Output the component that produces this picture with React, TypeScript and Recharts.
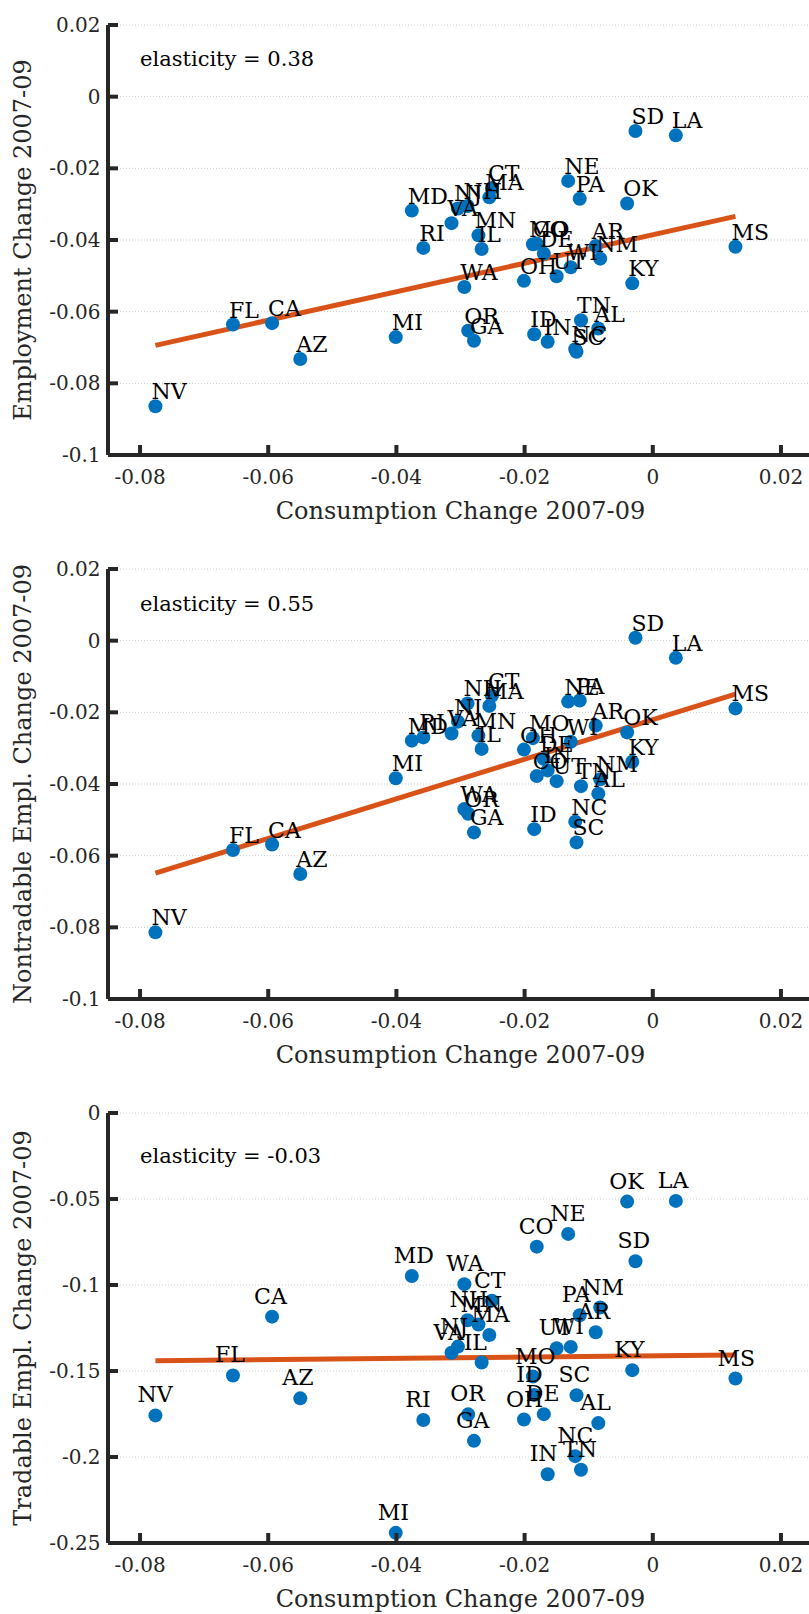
import React from "react";
import { ScatterChart, Scatter, XAxis, YAxis, CartesianGrid } from "recharts";

const STATES = ["NV", "FL", "CA", "AZ", "MI", "MD", "RI", "VA", "NJ", "WA", "NH", "OR", "GA", "MN", "IL", "MA", "CT", "OH", "ID", "MO", "CO", "DE", "IN", "UT", "NE", "WI", "NC", "SC", "PA", "TN", "AR", "AL", "NM", "OK", "KY", "SD", "LA", "MS"];
const CONSUMPTION = [-0.0776, -0.0655, -0.0594, -0.055, -0.0401, -0.0376, -0.0358, -0.0314, -0.0304, -0.0294, -0.0289, -0.0288, -0.0279, -0.0272, -0.0267, -0.0255, -0.0251, -0.0201, -0.0185, -0.0187, -0.0181, -0.017, -0.0164, -0.015, -0.0132, -0.0128, -0.0121, -0.0119, -0.0114, -0.0112, -0.0089, -0.0085, -0.0082, -0.004, -0.0032, -0.0027, 0.0036, 0.0129];
const EMPLOYMENT = [-0.0864, -0.0636, -0.0632, -0.0732, -0.0671, -0.0318, -0.0422, -0.0353, -0.0312, -0.0531, -0.0305, -0.0653, -0.0681, -0.0387, -0.0425, -0.0281, -0.0255, -0.0514, -0.0663, -0.0412, -0.041, -0.0438, -0.0684, -0.0501, -0.0235, -0.0476, -0.0705, -0.0712, -0.0285, -0.0624, -0.0417, -0.0647, -0.0452, -0.0298, -0.0521, -0.0096, -0.0108, -0.0419];
const NONTRADABLE = [-0.0814, -0.0584, -0.0569, -0.0651, -0.0384, -0.0279, -0.027, -0.0259, -0.0226, -0.047, -0.0175, -0.0483, -0.0535, -0.0265, -0.0302, -0.0182, -0.0154, -0.0304, -0.0526, -0.0272, -0.0378, -0.033, -0.0362, -0.0392, -0.017, -0.0282, -0.0505, -0.0563, -0.0167, -0.0406, -0.0237, -0.0427, -0.0387, -0.0256, -0.0338, 0.0008, -0.0048, -0.0189];
const TRADABLE = [-0.1758, -0.1526, -0.1184, -0.1659, -0.2441, -0.0948, -0.1785, -0.1394, -0.1358, -0.0995, -0.1205, -0.1752, -0.1906, -0.123, -0.1451, -0.1291, -0.1091, -0.1782, -0.1639, -0.1532, -0.0777, -0.1751, -0.21, -0.1368, -0.0703, -0.136, -0.1995, -0.1641, -0.1176, -0.2074, -0.1275, -0.1803, -0.1131, -0.0515, -0.1495, -0.0862, -0.0511, -0.1544];

// fitted line end points
const FIT_X = [-0.0776, 0.0129];
const FIT_EMP = [-0.0694, -0.0334];
const FIT_NONTRAD = [-0.0649, -0.0149];
const FIT_TRAD = [-0.1441, -0.1407];

const X_TICKS = [-0.08, -0.06, -0.04, -0.02, 0, 0.02];
const X_TICK_LABELS = ["-0.08", "-0.06", "-0.04", "-0.02", "0", "0.02"];
const Y_TICKS_A = [0.02, 0, -0.02, -0.04, -0.06, -0.08, -0.1];
const Y_TICK_LABELS_A = ["0.02", "0", "-0.02", "-0.04", "-0.06", "-0.08", "-0.1"];
const Y_TICKS_B = [0, -0.05, -0.1, -0.15, -0.2, -0.25];
const Y_TICK_LABELS_B = ["0", "-0.05", "-0.1", "-0.15", "-0.2", "-0.25"];

const NOTES = ["elasticity = 0.38", "elasticity = 0.55", "elasticity = -0.03"];
const NOTE_X = -0.08;
const NOTE_Y = [0.0105, 0.0103, -0.0248];
const Y_TITLES = ["Employment Change 2007-09", "Nontradable Empl. Change 2007-09", "Tradable Empl. Change 2007-09"];
const X_TITLE = "Consumption Change 2007-09";

const FONT = "'DejaVu Serif', serif";
const AX = "#262626";

function Panel({ ys, fit, yTicks, yTickLabels, yDomain, title, note, noteY, dx, dy }: any) {
  const points = STATES.map((s, i) => ({ x: CONSUMPTION[i], y: ys[i], state: s }));
  const fitPts = FIT_X.map((x, i) => ({ x, y: fit[i] }));
  const notePt = [{ x: NOTE_X, y: noteY, text: note }];

  const xTick = ({ x, y, payload }: any) => {
    const i = X_TICKS.indexOf(payload.value);
    return (
      <g>
        <line x1={x} x2={x} y1={y} y2={y - 10} stroke={AX} strokeWidth={4} />
        <text x={x} y={y + 22} textAnchor="middle" dominantBaseline="central" fontFamily={FONT} fontSize={20} fill={AX}>
          {i >= 0 ? X_TICK_LABELS[i] : String(payload.value)}
        </text>
      </g>
    );
  };
  const yTick = ({ x, y, payload }: any) => {
    const i = yTicks.indexOf(payload.value);
    return (
      <g>
        <line x1={x} x2={x + 10} y1={y} y2={y} stroke={AX} strokeWidth={4} />
        <text x={x - 7.5} y={y} textAnchor="end" dominantBaseline="central" fontFamily={FONT} fontSize={20} fill={AX}>
          {i >= 0 ? yTickLabels[i] : String(payload.value)}
        </text>
      </g>
    );
  };
  const xLabel = (p: any) => {
    const vb = p.viewBox;
    return (
      <text x={vb.x + vb.width / 2} y={vb.y + 56} textAnchor="middle" dominantBaseline="central" fontFamily={FONT} fontSize={24} fill={AX}>
        {X_TITLE}
      </text>
    );
  };
  const yLabel = (p: any) => {
    const vb = p.viewBox;
    const cy = vb.y + vb.height / 2;
    return (
      <text x={23} y={cy} transform={`rotate(-90, 23, ${cy})`} textAnchor="middle" dominantBaseline="central" fontFamily={FONT} fontSize={24} fill={AX}>
        {title}
      </text>
    );
  };

  return (
    <div style={{ height: 544 }}>
      <ScatterChart width={830} height={544} margin={{ top: 25, right: 17, bottom: 0, left: 0 }}>
        <CartesianGrid vertical={false} stroke="#cccccc" strokeDasharray="1 2" />
        <XAxis type="number" dataKey="x" domain={[-0.085, 0.025]} ticks={X_TICKS} interval={0} height={89}
          allowDataOverflow tickSize={0} tickMargin={0} tickLine={false}
          axisLine={{ stroke: AX, strokeWidth: 4 }} tick={xTick} label={{ content: xLabel }} />
        <YAxis type="number" dataKey="y" domain={yDomain} ticks={yTicks} interval={0} width={108}
          allowDataOverflow tickSize={0} tickMargin={0} tickLine={false}
          axisLine={{ stroke: AX, strokeWidth: 4 }} tick={yTick} label={{ content: yLabel }} />
        <Scatter data={fitPts} fill="#D95319" line={{ stroke: "#D95319", strokeWidth: 5 }}
          shape={() => <g />} isAnimationActive={false} />
        <Scatter data={points} isAnimationActive={false}
          shape={(p: any) => <circle cx={p.cx} cy={p.cy} r={7} fill="#0072BD" />} />
        <Scatter data={points} isAnimationActive={false}
          shape={(p: any) => (
            <text x={p.cx + dx} y={p.cy + dy} fontFamily={FONT} fontSize={22} fill="#000">{p.payload.state}</text>
          )} />
        <Scatter data={notePt} isAnimationActive={false}
          shape={(p: any) => (
            <text x={p.cx} y={p.cy} dominantBaseline="central" fontFamily={FONT} fontSize={21} fill="#000">{p.payload.text}</text>
          )} />
      </ScatterChart>
    </div>
  );
}

export default function App() {
  return (
    <div style={{ position: "absolute", left: 0, top: 0, width: 809, height: 1614, overflow: "hidden", background: "#fff" }}>
      <Panel ys={EMPLOYMENT} fit={FIT_EMP} yTicks={Y_TICKS_A} yTickLabels={Y_TICK_LABELS_A} yDomain={[-0.1, 0.02]}
        title={Y_TITLES[0]} note={NOTES[0]} noteY={NOTE_Y[0]} dx={-4} dy={-7} />
      <Panel ys={NONTRADABLE} fit={FIT_NONTRAD} yTicks={Y_TICKS_A} yTickLabels={Y_TICK_LABELS_A} yDomain={[-0.1, 0.02]}
        title={Y_TITLES[1]} note={NOTES[1]} noteY={NOTE_Y[1]} dx={-4} dy={-7} />
      <Panel ys={TRADABLE} fit={FIT_TRAD} yTicks={Y_TICKS_B} yTickLabels={Y_TICK_LABELS_B} yDomain={[-0.25, 0]}
        title={Y_TITLES[2]} note={NOTES[2]} noteY={NOTE_Y[2]} dx={-18} dy={-13} />
    </div>
  );
}
